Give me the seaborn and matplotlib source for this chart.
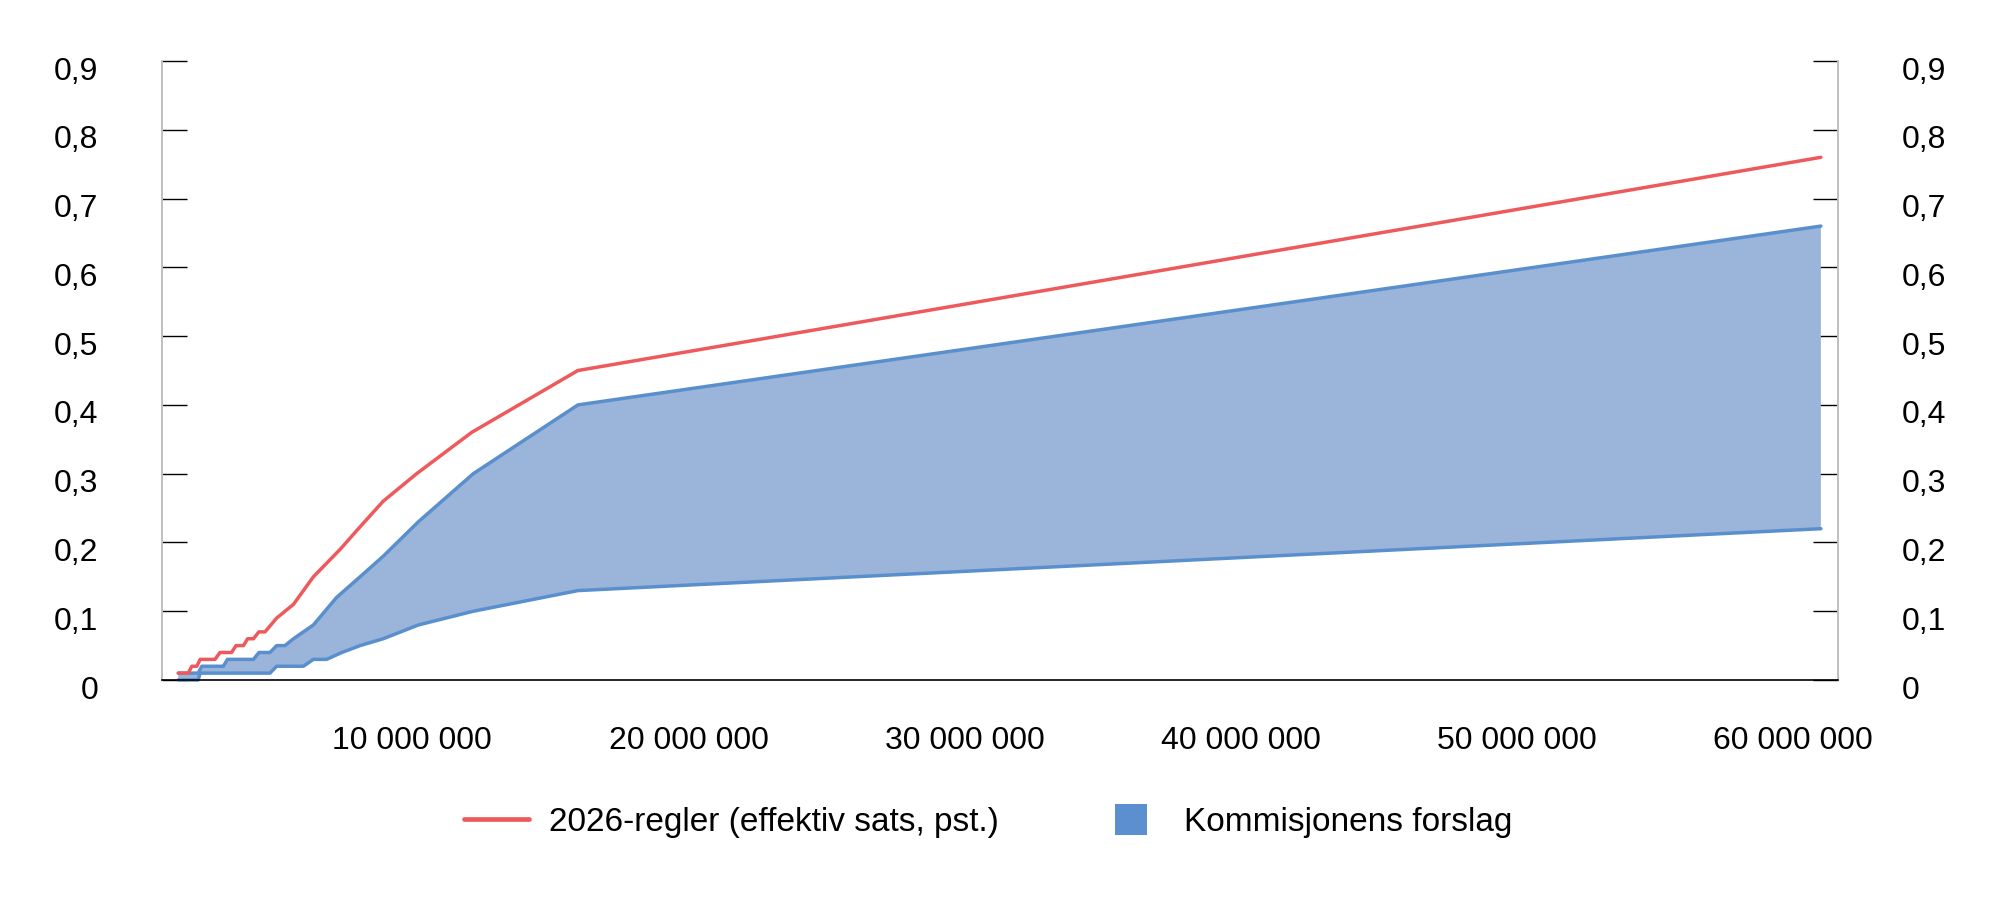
import numpy as np
import pandas as pd
import matplotlib
matplotlib.use("Agg")
import matplotlib.pyplot as plt
import matplotlib.transforms as mtransforms
import seaborn as sns
from matplotlib.lines import Line2D
from matplotlib.patches import Patch, Rectangle
from matplotlib.legend_handler import HandlerPatch

# ---- data (x in millions NOK, y effective rate) ----
red_x = [1.53, 1.89, 2.02, 2.2, 2.32, 2.86, 3.04, 3.46, 3.62, 3.89, 4.04, 4.25,
         4.45, 4.67, 5.09, 5.7, 6.42, 7.39, 8.05, 8.95, 10.16, 12.15, 16.0, 61.0]
red_y = [0.01, 0.01, 0.02, 0.02, 0.03, 0.03, 0.04, 0.04, 0.05, 0.05, 0.06, 0.06,
         0.07, 0.07, 0.09, 0.11, 0.15, 0.19, 0.22, 0.26, 0.30, 0.36, 0.45, 0.76]

upper_x = [1.53, 2.25, 2.38, 3.16, 3.31, 4.25, 4.45, 4.85, 5.09, 5.39, 5.7, 6.42,
           7.26, 8.11, 8.95, 10.22, 12.21, 16.0, 61.0]
upper_y = [0.01, 0.01, 0.02, 0.02, 0.03, 0.03, 0.04, 0.04, 0.05, 0.05, 0.06, 0.08,
           0.12, 0.15, 0.18, 0.23, 0.30, 0.40, 0.66]

lower_x = [1.53, 2.25, 2.32, 4.85, 5.09, 6.06, 6.42, 6.9, 7.45, 8.11, 8.95, 10.22,
           12.21, 16.0, 61.0]
lower_y = [0.0, 0.0, 0.01, 0.01, 0.02, 0.02, 0.03, 0.03, 0.04, 0.05, 0.06, 0.08,
           0.10, 0.13, 0.22]

x_ticks = [10, 20, 30, 40, 50, 60]
x_tick_labels = ["10 000 000", "20 000 000", "30 000 000", "40 000 000",
                 "50 000 000", "60 000 000"]
y_ticks = [0, 0.1, 0.2, 0.3, 0.4, 0.5, 0.6, 0.7, 0.8, 0.9]
y_tick_labels = ["0", "0,1", "0,2", "0,3", "0,4", "0,5", "0,6", "0,7", "0,8", "0,9"]

legend_labels = ["2026-regler (effektiv sats, pst.)", "Kommisjonens forslag"]

# ---- style ----
RED = "#EE5A5C"
BLUE = "#5A8FCE"
FILL = "#9BB4D9"
PATCH = "#5B8FCF"

sns.set_theme(style="white")
plt.rcParams["font.family"] = ["Liberation Sans", "DejaVu Sans"]
plt.rcParams["text.color"] = "black"
FS = 23
LFS = 24

fig = plt.figure(figsize=(20, 9.08), dpi=100)
ax = fig.add_axes([0.081, 0.2511, 0.838, 0.6817])

# fill between upper and lower bound (polygon)
poly_x = np.concatenate([upper_x, lower_x[::-1]])
poly_y = np.concatenate([upper_y, lower_y[::-1]])
ax.fill(poly_x, poly_y, color=FILL, lw=0, zorder=1)

df_u = pd.DataFrame({"x": upper_x, "y": upper_y})
df_l = pd.DataFrame({"x": lower_x, "y": lower_y})
df_r = pd.DataFrame({"x": red_x, "y": red_y})
for d in (df_u, df_l):
    sns.lineplot(data=d, x="x", y="y", ax=ax, color=BLUE, linewidth=2.5,
                 sort=False, estimator=None, zorder=2, clip_on=False)
sns.lineplot(data=df_r, x="x", y="y", ax=ax, color=RED, linewidth=2.5,
             sort=False, estimator=None, zorder=3, clip_on=False)

ax.set_xlim(0.94, 61.62)
ax.set_ylim(0, 0.9)
ax.set_xlabel("")
ax.set_ylabel("")

ax.set_xticks(x_ticks)
ax.set_xticklabels(x_tick_labels, fontsize=FS, color="black")
ax.tick_params(axis="x", length=0, pad=33)

ax.set_yticks(y_ticks)
ax.set_yticklabels(y_tick_labels, fontsize=FS, color="black")
ax.tick_params(axis="y", direction="in", length=18, width=1.0, color="black",
               left=True, right=True, labelleft=True, labelright=True, pad=46)

# y labels sit slightly below their ticks in the reference
offset = mtransforms.ScaledTranslation(0, -0.07, fig.dpi_scale_trans)
for t in ax.yaxis.get_major_ticks():
    for lab in (t.label1, t.label2):
        lab.set_transform(lab.get_transform() + offset)

for s in ("left", "right"):
    ax.spines[s].set_color("#BFBFBF")
    ax.spines[s].set_linewidth(1.4)
ax.spines["bottom"].set_color("black")
ax.spines["bottom"].set_linewidth(1.2)
ax.spines["top"].set_visible(False)
ax.grid(False)


class SquareHandler(HandlerPatch):
    def create_artists(self, legend, orig_handle, xdescent, ydescent, width,
                       height, fontsize, trans):
        side = 23
        r = Rectangle((-xdescent + (width - side) / 2,
                       -ydescent + (height - side) / 2), side, side,
                      facecolor=orig_handle.get_facecolor(), edgecolor="none",
                      transform=trans)
        return [r]


handles = [Line2D([], [], color=RED, linewidth=3.4),
           Patch(facecolor=PATCH, edgecolor="none")]
fig.legend(handles, legend_labels, loc="center", bbox_to_anchor=(0.494, 0.094),
           ncol=2, frameon=False, fontsize=LFS, handlelength=1.95,
           handletextpad=0.6, columnspacing=3.0, labelcolor="black",
           handler_map={Patch: SquareHandler()})

fig.savefig("out.png", dpi=100)
